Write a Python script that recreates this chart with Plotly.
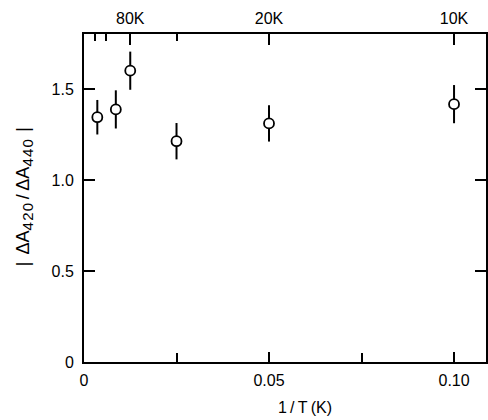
import plotly.graph_objects as go

# data
inv_T = [0.0036, 0.0086, 0.0125, 0.025, 0.05, 0.10]
ratio = [1.347, 1.39, 1.603, 1.215, 1.313, 1.419]
err = [0.095, 0.105, 0.105, 0.10, 0.10, 0.105]

bottom_tickvals = [0, 0.05, 0.10]
bottom_ticktext = ["0", "0.05", "0.10"]
bottom_minor = [0.025, 0.075]
top_tickvals = [0.0125, 0.05, 0.10]
top_ticktext = ["80K", "20K", "10K"]
top_minor = [0.003, 0.006, 0.025]
y_tickvals = [0, 0.5, 1.0, 1.5]
y_ticktext = ["0", "0.5", "1.0", "1.5"]

FONT = "Liberation Sans, Arial, sans-serif"
L, R, T, B = 83.5, 2, 34, 57.5
PW, PH = 488 - L - R, 420 - T - B
XR = [0, PW / 3705]
YR = [0, PH / 182]

fig = go.Figure()
fig.add_trace(go.Scatter(
    x=inv_T, y=ratio, mode="markers",
    error_y=dict(type="data", array=err, visible=True, width=0, thickness=2, color="black"),
    marker=dict(symbol="circle", size=10, color="white", line=dict(color="black", width=1.8)),
    showlegend=False, hoverinfo="skip",
))
fig.add_trace(go.Scatter(x=[None], y=[None], xaxis="x2", showlegend=False, hoverinfo="skip"))

tickstyle = dict(ticks="inside", tickwidth=2, tickcolor="black")
fig.update_layout(
    width=488, height=420,
    margin=dict(l=L, r=R, t=T, b=B, autoexpand=False),
    paper_bgcolor="white", plot_bgcolor="white",
    font=dict(family=FONT, size=16, color="black"),
    xaxis=dict(
        range=XR, tickvals=bottom_tickvals, ticktext=bottom_ticktext, ticklen=10, **tickstyle,
        minor=dict(tickvals=bottom_minor, ticks="inside", ticklen=9, tickwidth=2, tickcolor="black"),
        showline=True, linewidth=2, linecolor="black", mirror=False,
        showgrid=False, zeroline=False, ticklabelstandoff=3,
        tickfont=dict(family=FONT, size=16),
    ),
    xaxis2=dict(
        range=XR, overlaying="x", side="top",
        tickvals=top_tickvals, ticktext=top_ticktext, ticklen=11, **tickstyle,
        minor=dict(tickvals=top_minor, ticks="inside", ticklen=7, tickwidth=2, tickcolor="black"),
        showline=True, linewidth=2, linecolor="black",
        showgrid=False, zeroline=False, ticklabelstandoff=2,
        tickfont=dict(family=FONT, size=16),
    ),
    yaxis=dict(
        range=YR, tickvals=y_tickvals, ticktext=y_ticktext, ticklen=11, **tickstyle,
        showline=True, linewidth=2, linecolor="black", mirror="ticks",
        showgrid=False, zeroline=False, ticklabelstandoff=5,
        tickfont=dict(family=FONT, size=16),
    ),
    annotations=[
        dict(text="1\u2009/\u2009T\u2009(K)", xref="paper", yref="paper",
             x=(305 - L) / PW, y=-(408 - (420 - B)) / PH,
             showarrow=False, font=dict(family=FONT, size=16), xanchor="center", yanchor="middle"),
        dict(text="|\u2009\u2009ΔA<sub><span style='font-size:15px'>4\u200a2\u200a0</span></sub>\u2009/\u2009ΔA<sub><span style='font-size:15px'>4\u200a4\u200a0</span></sub>\u2009\u2009|",
             xref="paper", yref="paper",
             x=-(L - 24) / PW, y=((420 - B) - 197) / PH, textangle=-90,
             showarrow=False, font=dict(family=FONT, size=18), xanchor="center", yanchor="middle"),
    ],
)

fig.write_html("out.html", config={"displayModeBar": False},
               post_script="document.body.style.margin='0';document.body.style.overflow='hidden';")
